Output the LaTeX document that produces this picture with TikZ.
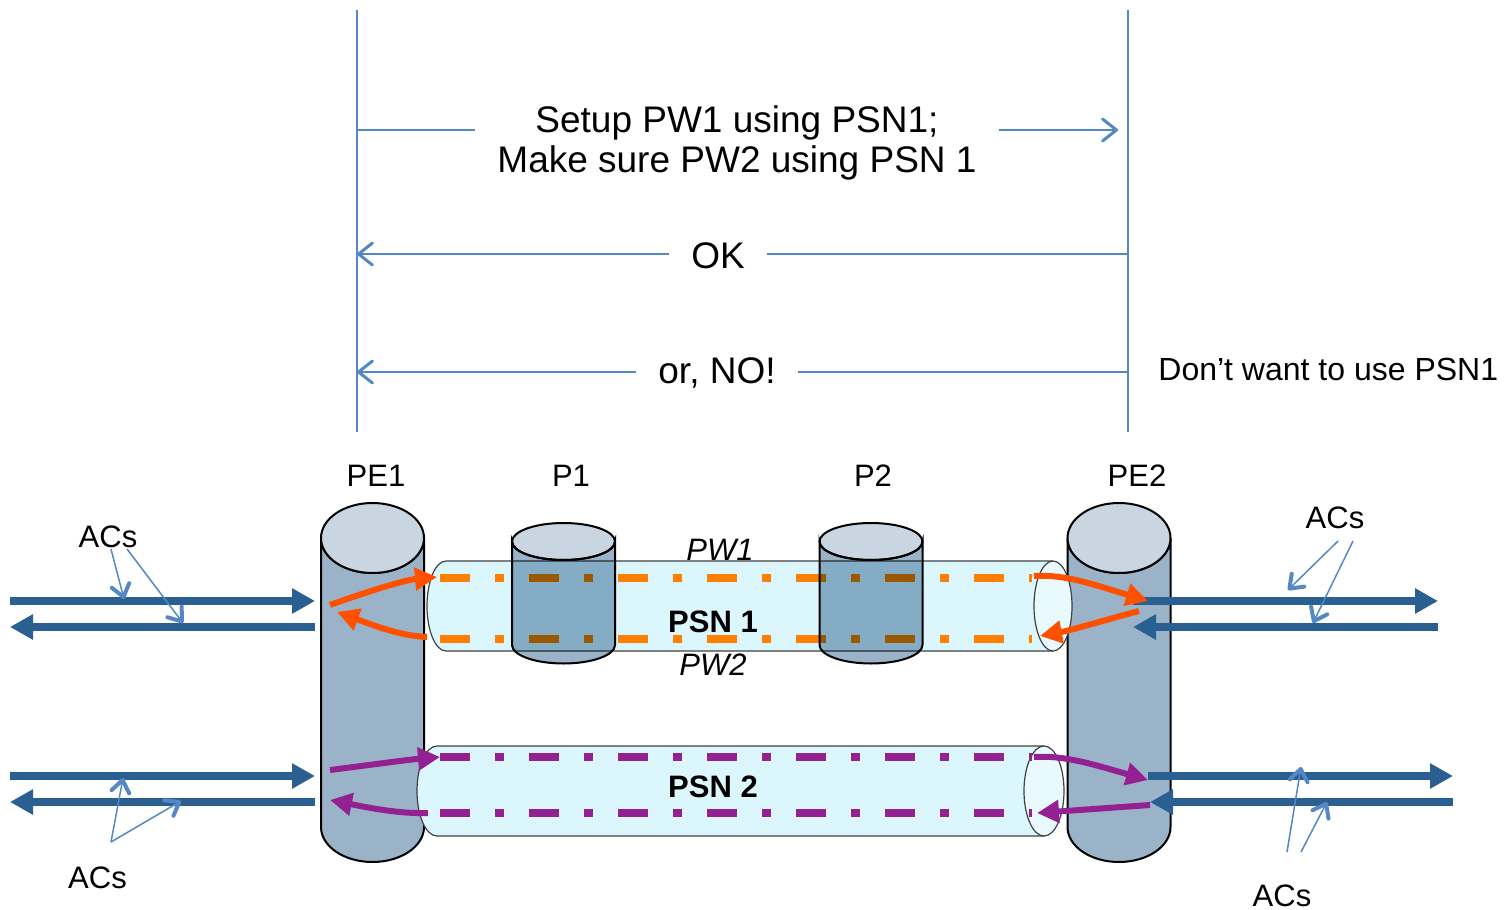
\documentclass[tikz,border=0pt]{standalone}
\usepackage{fontspec}
\setmainfont{Liberation Sans}
\usetikzlibrary{arrows.meta}
\definecolor{msgblue}{RGB}{84,135,196}
\definecolor{acblue}{RGB}{41,95,145}
\definecolor{pwor}{RGB}{255,128,0}
\definecolor{arror}{RGB}{255,80,0}
\definecolor{pwpur}{RGB}{148,33,146}
\definecolor{cylside}{RGB}{154,179,200}
\definecolor{cyltop}{RGB}{201,213,225}
\definecolor{tubefill}{RGB}{219,246,252}
\definecolor{tubeend}{RGB}{233,250,254}
\tikzset{
  msgline/.style={draw=msgblue, line width=1pt},
  msgtip/.style={-{Straight Barb[length=7pt,width=11pt,line width=1.5pt,round]}},
  msgtext/.style={font=\fontsize{18.5}{20}\selectfont, inner xsep=11pt, inner ysep=0pt},
  lbl/.style={font=\fontsize{15.5}{18}\selectfont, inner sep=0pt},
  psnlbl/.style={font=\fontsize{15.5}{18}\selectfont\bfseries, inner sep=0pt},
  pwlbl/.style={font=\fontsize{15.5}{18}\selectfont\itshape, inner sep=0pt},
  tubeedge/.style={draw=black!75, line width=0.6pt},
  pwdash/.style={line width=3.75pt, dash pattern=on 15pt off 12.5pt on 4.5pt off 12.5pt},
  acarrow/.style={draw=acblue, line width=3.75pt, -{Triangle[length=11.5pt,width=12pt]}},
  pwarrow/.style={line width=3pt, -{Triangle[length=11pt,width=11pt]}},
  pointer/.style={draw=msgblue, line width=0.75pt, -{Straight Barb[length=6pt,width=9pt,line width=2pt,round]}},
}
% cx, topy, boty, rx, ry, side colour, top colour
\newcommand{\drawcyl}[7]{%
  \path[draw=black, line width=1pt, fill=#6]
    ({#1-#4},#2) -- ({#1-#4},#3)
    arc[start angle=180,end angle=360,x radius={#4*0.5pt},y radius={#5*0.5pt}]
    -- ({#1+#4},#2)
    arc[start angle=0,end angle=-180,x radius={#4*0.5pt},y radius={#5*0.5pt}] -- cycle;
  \path[draw=black, line width=1pt, fill=#7]
    (#1,#2) ellipse[x radius={#4*0.5pt}, y radius={#5*0.5pt}];
}
% leftx, rightx, topy, boty, rx
\newcommand{\drawtube}[5]{%
  \fill[tubefill] (#1,#3) -- (#2,#3) -- (#2,#4) -- (#1,#4)
    arc[start angle=270,end angle=90,x radius={#5*0.5pt},y radius={(#4-#3)*0.25pt}] -- cycle;
  \draw[tubeedge] (#2,#3) -- (#1,#3)
    arc[start angle=90,end angle=270,x radius={#5*0.5pt},y radius={(#4-#3)*0.25pt}] -- (#2,#4);
  \draw[tubeedge, fill=tubeend] (#2,{(#3+#4)/2}) ellipse[x radius={#5*0.5pt},y radius={(#4-#3)*0.25pt}];
}
\begin{document}
\begin{tikzpicture}[x=0.5pt,y=-0.5pt]
\useasboundingbox (0,0) rectangle (1506,910);

% ---------- signalling ----------
\coordinate (v1t) at (357,10);  \coordinate (v1b) at (357,432);
\coordinate (v2t) at (1128,10); \coordinate (v2b) at (1128,432);
\draw[msgline] (v1t) -- (v1b);
\draw[msgline] (v2t) -- (v2b);

\node[msgtext, align=center, anchor=base] (setup) at (737,172)
  {Setup PW1 using PSN1;\\Make sure PW2 using PSN 1};
\coordinate (s1l) at (357,130); \coordinate (s1r) at (1118,130);
\draw[msgline] (s1l) -- (s1l -| setup.west);
\draw[msgline, msgtip] (s1r -| setup.east) -- (s1r);

\node[msgtext, anchor=base] (ok) at (718,268) {OK};
\coordinate (okl) at (357,254); \coordinate (okr) at (1128,254);
\draw[msgline] (okr) -- (okr -| ok.east);
\draw[msgline, msgtip] (okl -| ok.west) -- (okl);

\node[msgtext, anchor=base] (no) at (717,383) {or, NO!};
\coordinate (nol) at (357,372); \coordinate (nor) at (1128,372);
\draw[msgline] (nor) -- (nor -| no.east);
\draw[msgline, msgtip] (nol -| no.west) -- (nol);

\node[font=\fontsize{16}{18}\selectfont, inner sep=0pt, anchor=base west] (dont) at (1158,380) {Don’t want to use PSN1};

% ---------- PE routers ----------
\drawcyl{372.5}{538}{827}{51.5}{35}{cylside}{cyltop}
\drawcyl{1119}{538}{827}{51.5}{35}{cylside}{cyltop}

% ---------- tunnels ----------
\drawtube{446}{1053}{561}{651}{19}
\drawtube{437}{1044}{746}{836}{20}

\coordinate (pw1a) at (440,578); \coordinate (pw1b) at (1032,578);
\coordinate (pw2a) at (440,639); \coordinate (pw2b) at (1032,639);
\coordinate (pw3a) at (440,757); \coordinate (pw3b) at (1032,757);
\coordinate (pw4a) at (440,813); \coordinate (pw4b) at (1032,813);
\draw[pwdash, pwor] (pw1a) -- (pw1b);
\draw[pwdash, pwor] (pw2a) -- (pw2b);
\draw[pwdash, pwpur] (pw3a) -- (pw3b);
\draw[pwdash, pwpur] (pw4a) -- (pw4b);

% ---------- P routers (multiplied over the tunnel) ----------
\begin{scope}[blend mode=multiply]
\drawcyl{563.5}{541.5}{645}{51.5}{18.5}{cylside}{cyltop}
\drawcyl{871}{541.5}{645}{51.5}{18.5}{cylside}{cyltop}
\end{scope}

% ---------- labels ----------
\node[lbl, anchor=base] (pe1) at (376,486) {PE1};
\node[lbl, anchor=base] (p1)  at (571,486) {P1};
\node[lbl, anchor=base] (p2)  at (873,486) {P2};
\node[lbl, anchor=base] (pe2) at (1137,486) {PE2};
\node[psnlbl, anchor=base] (psn1) at (713,632) {PSN 1};
\node[psnlbl, anchor=base] (psn2) at (713,797) {PSN 2};
\node[pwlbl, anchor=base] (pw1) at (720,560) {PW1};
\node[pwlbl, anchor=base] (pw2) at (713,675) {PW2};

% ---------- attachment circuits ----------
\coordinate (a1s) at (10,601);   \coordinate (a1e) at (315,601);
\coordinate (a2s) at (315,627);  \coordinate (a2e) at (10,627);
\coordinate (a3s) at (10,776);   \coordinate (a3e) at (315,776);
\coordinate (a4s) at (315,802);  \coordinate (a4e) at (10,802);
\coordinate (a5s) at (1133,601); \coordinate (a5e) at (1438,601);
\coordinate (a6s) at (1438,627); \coordinate (a6e) at (1133,627);
\coordinate (a7s) at (1148,776); \coordinate (a7e) at (1453,776);
\coordinate (a8s) at (1453,802); \coordinate (a8e) at (1150,802);
\foreach \i in {1,...,8} { \draw[acarrow] (a\i s) -- (a\i e); }

% ---------- PW stitching arrows ----------
\coordinate (o1s) at (330,605);  \coordinate (o1e) at (437,577);
\coordinate (o2s) at (427,637);  \coordinate (o2e) at (337,612);
\coordinate (o3s) at (1034,576); \coordinate (o3e) at (1148,601);
\coordinate (o4s) at (1139,611); \coordinate (o4e) at (1040,636);
\draw[pwarrow, arror] (o1s) .. controls (372,590) and (405,580) .. (o1e);
\draw[pwarrow, arror] (o2s) .. controls (402,636) and (378,627) .. (o2e);
\draw[pwarrow, arror] (o3s) .. controls (1065,574) and (1095,585) .. (o3e);
\draw[pwarrow, arror] (o4s) .. controls (1105,620) and (1072,630) .. (o4e);

\coordinate (u1s) at (330,770);  \coordinate (u1e) at (440,757);
\coordinate (u2s) at (428,813);  \coordinate (u2e) at (330,800);
\coordinate (u3s) at (1034,757); \coordinate (u3e) at (1148,780);
\coordinate (u4s) at (1150,805); \coordinate (u4e) at (1037,813);
\draw[pwarrow, pwpur] (u1s) .. controls (370,765) and (405,760) .. (u1e);
\draw[pwarrow, pwpur] (u2s) .. controls (400,814) and (370,808) .. (u2e);
\draw[pwarrow, pwpur] (u3s) .. controls (1065,755) and (1095,765) .. (u3e);
\draw[pwarrow, pwpur] (u4s) -- (u4e);

% ---------- ACs labels and pointers ----------
\node[lbl, anchor=base] (acs1) at (108,547) {ACs};
\node[lbl, anchor=base] (acs2) at (97.5,888) {ACs};
\node[lbl, anchor=base] (acs3) at (1335,528) {ACs};
\node[lbl, anchor=base] (acs4) at (1282,906) {ACs};

\coordinate (q1s) at (111,549);  \coordinate (q1e) at (124,599);
\coordinate (q2s) at (127,549);  \coordinate (q2e) at (183,623);
\coordinate (q3s) at (111,842);  \coordinate (q3e) at (123,778);
\coordinate (q4s) at (111,842);  \coordinate (q4e) at (181,801);
\coordinate (q5s) at (1338,541); \coordinate (q5e) at (1288,590);
\coordinate (q6s) at (1353,541); \coordinate (q6e) at (1313,623);
\coordinate (q7s) at (1287,852); \coordinate (q7e) at (1301,767);
\coordinate (q8s) at (1301,852); \coordinate (q8e) at (1327,802);
\foreach \i in {1,...,8} { \draw[pointer] (q\i s) -- (q\i e); }
\end{tikzpicture}
\end{document}
